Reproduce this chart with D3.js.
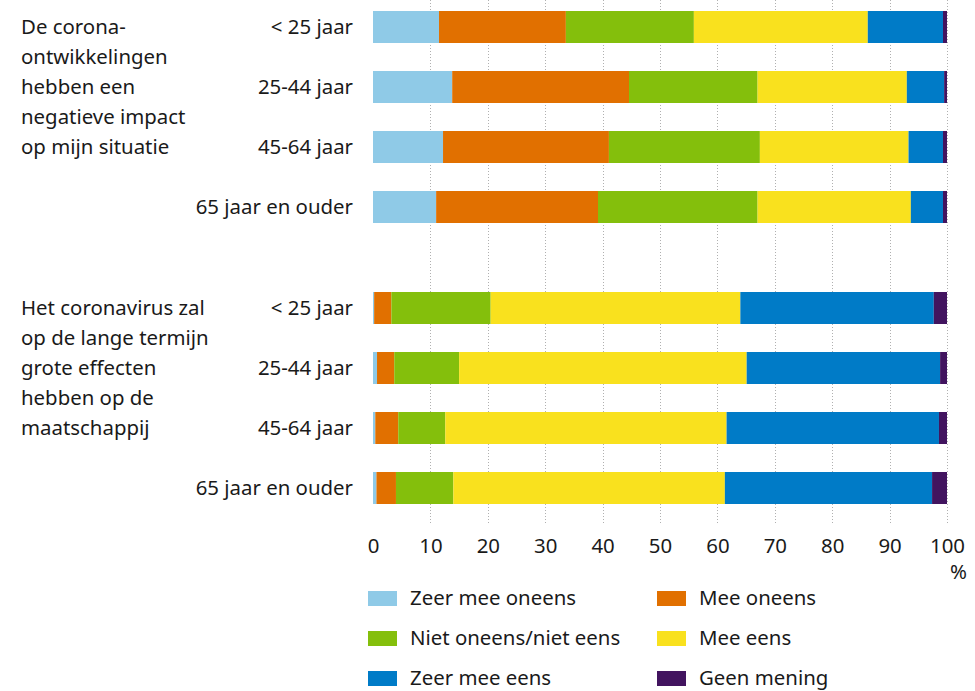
<!DOCTYPE html>
<html lang="nl">
	<head>
		<meta charset="utf-8">
		<title>Corona stellingen naar leeftijd</title>
		<script type="text/javascript" src="https://d3js.org/d3.v7.min.js"></script>
		<style type="text/css">
			body { margin: 0; background: #fff; }
			text { font-family: "Noto Sans", sans-serif; fill: #1a1a1a; }
		</style>
	</head>
<body>
<script>

var w = 975;
var h = 691;

// data (percentages)
var ages = ["< 25 jaar", "25-44 jaar", "45-64 jaar", "65 jaar en ouder"];
var categories = ["Zeer mee oneens", "Mee oneens", "Niet oneens/niet eens", "Mee eens", "Zeer mee eens", "Geen mening"];
var colors = ["#8fcae7", "#e17000", "#84bf0c", "#f9e11e", "#007bc7", "#42145f"];

var question1 = ["De corona-", "ontwikkelingen", "hebben een", "negatieve impact", "op mijn situatie"];
var question2 = ["Het coronavirus zal", "op de lange termijn", "grote effecten", "hebben op de", "maatschappij"];

var impact = [
  [11.5, 22.1, 22.3, 30.3, 13.1, 0.7],
  [13.8, 30.8, 22.4, 26.0, 6.5, 0.5],
  [12.2, 28.9, 26.3, 25.9, 6.0, 0.7],
  [11.0, 28.2, 27.8, 26.7, 5.6, 0.7]
];
var effects = [
  [0.2, 3.0, 17.3, 43.5, 33.7, 2.3],
  [0.7, 3.0, 11.3, 50.1, 33.7, 1.2],
  [0.4, 4.0, 8.2, 49.0, 37.0, 1.4],
  [0.6, 3.4, 10.0, 47.3, 36.1, 2.6]
];

var ticks = [0, 10, 20, 30, 40, 50, 60, 70, 80, 90, 100];

var fontSize = "20.4px";

var x = d3.scaleLinear().domain([0, 100]).range([373, 947]);

var color = d3.scaleOrdinal().domain(categories).range(colors);

var svg = d3.select("body").append("svg")
    .attr("width", w)
    .attr("height", h);

// dotted gridlines behind the bars
svg.append("g")
  .selectAll("line")
  .data(ticks.slice(1))
  .enter().append("line")
    .attr("x1", function(d) { return Math.round(x(d)) + 0.5; })
    .attr("x2", function(d) { return Math.round(x(d)) + 0.5; })
    .attr("y1", 0)
    .attr("y2", 524)
    .style("stroke", "#b0b0b0")
    .style("stroke-width", 1)
    .style("stroke-dasharray", "1,2");

function drawGroup(rows, question, top) {
  var y = d3.scaleBand()
      .domain(ages)
      .range([top, top + 240])
      .paddingInner(28 / 60)
      .paddingOuter(14 / 60);

  var stackData = rows.map(function(r, i) {
    var o = {age: ages[i]};
    categories.forEach(function(c, j) { o[c] = r[j]; });
    return o;
  });
  var series = d3.stack().keys(categories)(stackData);

  var g = svg.append("g");
  g.selectAll("g")
    .data(series)
    .enter().append("g")
      .style("fill", function(d) { return color(d.key); })
    .selectAll("rect")
    .data(function(d) { return d; })
    .enter().append("rect")
      .attr("x", function(d) { return x(d[0]); })
      .attr("width", function(d) { return x(d[1]) - x(d[0]); })
      .attr("y", function(d) { return y(d.data.age); })
      .attr("height", y.bandwidth());

  // age labels
  g.selectAll(".age")
    .data(ages)
    .enter().append("text")
      .attr("class", "age")
      .attr("x", 353)
      .attr("y", function(d) { return y(d) + y.bandwidth() / 2; })
      .attr("dy", "0.36em")
      .attr("text-anchor", "end")
      .style("font-size", fontSize)
      .text(function(d) { return d; });

  // question text, first line lines up with first age label
  var y0 = y(ages[0]) + y.bandwidth() / 2;
  g.selectAll(".q")
    .data(question)
    .enter().append("text")
      .attr("class", "q")
      .attr("x", 21)
      .attr("y", function(d, i) { return y0 + i * 30; })
      .attr("dy", "0.36em")
      .style("font-size", fontSize)
      .text(function(d) { return d; });
}

drawGroup(impact, question1, -3);
drawGroup(effects, question2, 278);

// x axis, labels only
var axis = svg.append("g")
    .attr("transform", "translate(0,537)")
    .call(d3.axisBottom(x).tickValues(ticks).tickSize(0).tickPadding(2).tickFormat(d3.format("d")));
axis.select(".domain").remove();
axis.selectAll("text")
    .style("font-family", "'Noto Sans', sans-serif")
    .style("font-size", fontSize)
    .style("fill", "#1a1a1a");

svg.append("text")
    .attr("x", 967)
    .attr("y", 579)
    .attr("text-anchor", "end")
    .style("font-size", fontSize)
    .text("%");

// legend
var legend = svg.append("g")
  .selectAll("g")
  .data(categories)
  .enter().append("g")
    .attr("transform", function(d, i) {
      return "translate(" + (i % 2 === 0 ? 368 : 657) + "," + (591 + Math.floor(i / 2) * 40) + ")";
    });

legend.append("rect")
    .attr("width", 29)
    .attr("height", 15)
    .style("fill", function(d) { return color(d); });

legend.append("text")
    .attr("x", 42)
    .attr("y", 7.5)
    .attr("dy", "0.34em")
    .style("font-size", fontSize)
    .text(function(d) { return d; });

</script>
</body>
</html>
